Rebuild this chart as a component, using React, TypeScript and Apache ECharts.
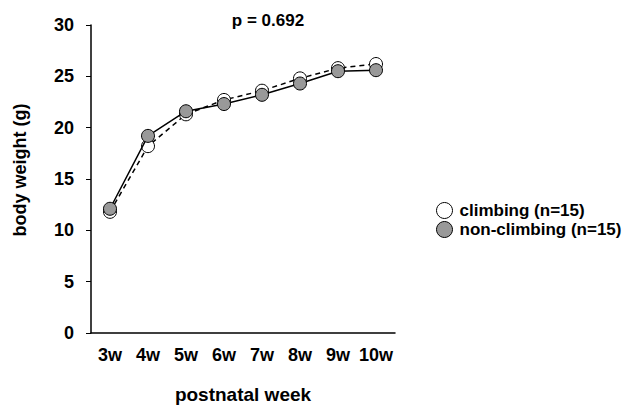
import React, { useEffect, useRef } from "react";
import * as echarts from "echarts";

const weeks = ["3w", "4w", "5w", "6w", "7w", "8w", "9w", "10w"];
const climbing = [11.8, 18.2, 21.3, 22.7, 23.6, 24.8, 25.8, 26.2];
const nonClimbing = [12.1, 19.2, 21.6, 22.3, 23.2, 24.3, 25.5, 25.6];
const yTicks = { min: 0, max: 30, interval: 5 };
const pText = "p = 0.692";

const FONT = "'Liberation Sans', Arial, sans-serif";

export default function App() {
  const ref = useRef<HTMLDivElement>(null);
  useEffect(() => {
    if (!ref.current) return;
    const chart = echarts.init(ref.current, null, { renderer: "svg" });
    chart.setOption({
      animation: false,
      backgroundColor: "#fff",
      textStyle: { fontFamily: FONT },
      title: {
        text: pText,
        left: 263,
        top: 7,
        textAlign: "center",
        textStyle: { fontFamily: FONT, fontWeight: "bold", fontSize: 17, color: "#000" },
      },
      grid: { left: 91, right: 237, top: 25, bottom: 76, containLabel: false, outerBoundsMode: "none" },
      legend: {
        orient: "vertical",
        left: 431,
        top: 197,
        itemGap: 2,
        itemWidth: 20,
        itemHeight: 16,
        icon: "circle",
        textStyle: { fontFamily: FONT, fontWeight: "bold", fontSize: 17, color: "#000" },
        data: [
          { name: "climbing (n=15)", itemStyle: { color: "#fff", borderColor: "#000", borderWidth: 1 } },
          { name: "non-climbing (n=15)", itemStyle: { color: "#999", borderColor: "#000", borderWidth: 1 } },
        ],
      },
      xAxis: {
        type: "category",
        data: weeks,
        boundaryGap: true,
        name: "postnatal week",
        nameLocation: "middle",
        nameGap: 52,
        nameTextStyle: { fontFamily: FONT, fontWeight: "bold", fontSize: 19, color: "#000" },
        axisLine: { lineStyle: { color: "#000", width: 1.5 } },
        axisTick: { alignWithLabel: true, length: 5, lineStyle: { color: "#000" } },
        axisLabel: { interval: 0, margin: 13, fontFamily: FONT, fontWeight: "bold", fontSize: 18, color: "#000" },
        splitLine: { show: false },
      },
      yAxis: {
        type: "value",
        min: yTicks.min,
        max: yTicks.max,
        interval: yTicks.interval,
        axisLine: { show: true, lineStyle: { color: "#000", width: 1.5 } },
        axisTick: { show: true, length: 5, lineStyle: { color: "#000" } },
        axisLabel: { margin: 17, fontFamily: FONT, fontWeight: "bold", fontSize: 18, color: "#000" },
        splitLine: { show: false },
      },
      graphic: [
        {
          type: "text",
          x: 20,
          y: 170,
          rotation: Math.PI / 2,
          style: {
            text: "body weight (g)",
            font: `bold 18px ${FONT}`,
            fill: "#000",
            align: "center",
            verticalAlign: "middle",
          },
        },
      ],
      series: [
        {
          name: "climbing (n=15)",
          type: "line",
          data: climbing,
          symbol: "circle",
          symbolSize: 13,
          lineStyle: { color: "#000", width: 1.5, type: [5, 4] },
          itemStyle: { color: "#fff", borderColor: "#000", borderWidth: 1 },
          z: 2,
        },
        {
          name: "non-climbing (n=15)",
          type: "line",
          data: nonClimbing,
          symbol: "circle",
          symbolSize: 13,
          lineStyle: { color: "#000", width: 1.5 },
          itemStyle: { color: "#999", borderColor: "#000", borderWidth: 1 },
          z: 3,
        },
      ],
    });
    return () => chart.dispose();
  }, []);
  return <div ref={ref} style={{ width: 632, height: 409, position: "absolute", left: 0, top: 0 }} />;
}
